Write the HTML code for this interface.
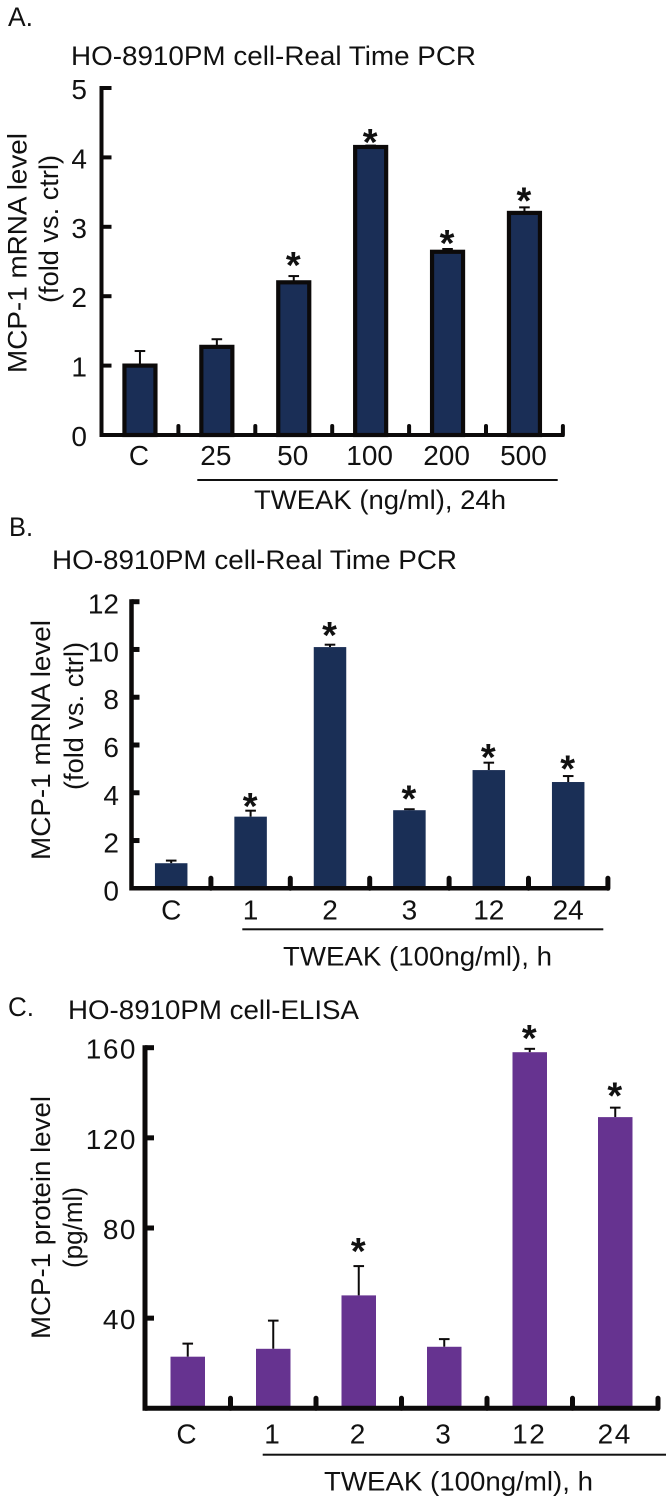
<!DOCTYPE html>
<html>
<head>
<meta charset="utf-8">
<title>MCP-1 levels</title>
<style>
html,body{margin:0;padding:0;background:#fff;width:672px;height:1503px;overflow:hidden}
svg{display:block;filter:blur(0.35px)}
text{font-family:"Liberation Sans",Arial,sans-serif;fill:#111}
.lab{font-size:27px}
.tick{font-size:28px}
</style>
</head>
<body>
<svg id="figure" xmlns="http://www.w3.org/2000/svg" width="672" height="1503" viewBox="0 0 672 1503">
<rect width="672" height="1503" fill="#fff"/>

<text x="8" y="26" class="lab" textLength="25" lengthAdjust="spacingAndGlyphs">A.</text>
<text x="71" y="65" class="lab" textLength="405" lengthAdjust="spacingAndGlyphs">HO-8910PM cell-Real Time PCR</text>
<text transform="translate(26.5,373) rotate(-90)" class="lab" textLength="240" lengthAdjust="spacingAndGlyphs">MCP-1 mRNA level</text>
<text transform="translate(58,303) rotate(-90)" class="lab" textLength="148" lengthAdjust="spacingAndGlyphs">(fold vs. ctrl)</text>
<rect x="197.3" y="479" width="360.4" height="2" fill="#111"/>
<text x="254" y="509" class="lab" textLength="252" lengthAdjust="spacingAndGlyphs">TWEAK (ng/ml), 24h</text>

<text x="9" y="536" class="lab" textLength="24" lengthAdjust="spacingAndGlyphs">B.</text>
<text x="52" y="569" class="lab" textLength="405" lengthAdjust="spacingAndGlyphs">HO-8910PM cell-Real Time PCR</text>
<text transform="translate(50,860) rotate(-90)" class="lab" textLength="240" lengthAdjust="spacingAndGlyphs">MCP-1 mRNA level</text>
<text transform="translate(83,790) rotate(-90)" class="lab" textLength="148" lengthAdjust="spacingAndGlyphs">(fold vs. ctrl)</text>
<rect x="242.3" y="928.3" width="361" height="2" fill="#111"/>
<text x="283" y="965.7" class="lab" textLength="269" lengthAdjust="spacingAndGlyphs">TWEAK (100ng/ml), h</text>

<text x="8" y="1016" class="lab" textLength="26" lengthAdjust="spacingAndGlyphs">C.</text>
<text x="68" y="1019" class="lab" textLength="291" lengthAdjust="spacingAndGlyphs">HO-8910PM cell-ELISA</text>
<text transform="translate(50,1339) rotate(-90)" class="lab" textLength="243" lengthAdjust="spacingAndGlyphs">MCP-1 protein level</text>
<text transform="translate(82,1268) rotate(-90)" class="lab" textLength="81" lengthAdjust="spacingAndGlyphs">(pg/ml)</text>
<rect x="262.7" y="1453.7" width="403.3" height="2" fill="#111"/>
<text x="324" y="1490.7" class="lab" textLength="269" lengthAdjust="spacingAndGlyphs">TWEAK (100ng/ml), h</text>
</svg>

<script>
// Panel A data
const categoriesA = ['C', '25', '50', '100', '200', '500'];
const valuesA = [1.0, 1.27, 2.2, 4.15, 2.64, 3.2];
const errorTopsA = [1.21, 1.38, 2.29, 4.17, 2.68, 3.28];
const starLevelsA = [null, null, 2.55, 4.32, 2.87, 3.48];
const yTicksA = [0, 1, 2, 3, 4, 5];

// Panel B data
const categoriesB = ['C', '1', '2', '3', '12', '24'];
const valuesB = [1.05, 3.0, 10.1, 3.27, 4.95, 4.45];
const errorTopsB = [1.16, 3.25, 10.2, 3.31, 5.26, 4.7];
const starLevelsB = [null, 3.73, 10.9, 4.05, 5.8, 5.3];
const yTicksB = [0, 2, 4, 6, 8, 10, 12];

// Panel C data
const categoriesC = ['C', '1', '2', '3', '12', '24'];
const valuesC = [22.9, 26.4, 50.1, 27.3, 158, 129.2];
const errorTopsC = [28.7, 38.9, 63.1, 30.7, 159.5, 133.4];
const starLevelsC = [null, null, 72.8, null, 167.5, 142];
const yTicksC = [40, 80, 120, 160];

const svg = document.getElementById('figure');
const NS = 'http://www.w3.org/2000/svg';

function mk(tag, attrs, text) {
  const el = document.createElementNS(NS, tag);
  for (const k in attrs) el.setAttribute(k, attrs[k]);
  if (text !== undefined) el.textContent = text;
  svg.appendChild(el);
  return el;
}

function drawPanel(p) {
  const yScale = v => p.yBase - (v - p.yMin) * (p.yBase - p.yTop) / (p.yMax - p.yMin);
  const xBand = i => p.xStart + (i + 0.5) * p.step;
  const xEdge = i => p.xStart + i * p.step;
  const n = p.categories.length;

  p.values.forEach((v, i) => {
    const cx = xBand(i);
    const top = yScale(v);
    const errTop = yScale(p.errorTops[i]);

    const stem = mk('line', {x1: cx, x2: cx, y1: top, y2: errTop, stroke: '#0c0a0a', 'stroke-width': p.errWidth});
    
    

    const cap = mk('line', {x1: cx - 5.3, x2: cx + 5.3, y1: errTop, y2: errTop, stroke: '#0c0a0a', 'stroke-width': p.errWidth});
    
    

    const bar = mk('rect', {
      x: cx - p.barWidth / 2,
      y: top,
      width: p.barWidth,
      height: yScale(p.yMin) - top,
      fill: p.color,
      stroke: p.barStroke,
      'stroke-width': p.barStrokeWidth
    });
    
    

    const label = mk('text', {
      x: cx + p.labelShift,
      y: p.xLabelY,
      'text-anchor': 'middle',
      class: 'tick',
      'letter-spacing': p.tickSpacing
    }, p.categories[i]);
    
    

    if (p.starLevels[i] !== null) {
      const star = mk('text', {
        x: cx - 0.5,
        y: yScale(p.starLevels[i]) + 20,
        'text-anchor': 'middle',
        style: 'font-size:38px;font-weight:bold'
      }, '*');
      
      
    }
  });

  const yAxis = mk('line', {x1: p.xStart, x2: p.xStart, y1: p.yTop - p.tickWidth / 2, y2: p.yBase + p.axisWidth / 2, stroke: '#0c0a0a', 'stroke-width': p.axisWidth});
  
  

  const xAxis = mk('line', {x1: p.xStart, x2: xEdge(n) + 1.5, y1: p.yBase, y2: p.yBase, stroke: '#0c0a0a', 'stroke-width': p.axisWidth});
  
  

  for (let i = 1; i <= n; i++) {
    const t = mk('line', {x1: xEdge(i), x2: xEdge(i), y1: p.yBase, y2: p.yBase - p.xTickLen, stroke: '#0c0a0a', 'stroke-width': p.tickWidth, 'stroke-linecap': 'round'});
    
    
  }

  p.yTicks.forEach(v => {
    const yy = yScale(v);
    if (v !== p.yMin) {
      const t = mk('line', {x1: p.xStart, x2: p.xStart + p.yTickLen, y1: yy, y2: yy, stroke: '#0c0a0a', 'stroke-width': p.tickWidth});
      
      
    }
    const label = mk('text', {
      x: p.yLabelX,
      y: yy + p.yLabelDrop,
      'text-anchor': 'end',
      class: 'tick',
      'letter-spacing': p.tickSpacing
    }, String(v));
    
    
  });
}

drawPanel({
  id: 'a', categories: categoriesA, values: valuesA, errorTops: errorTopsA, starLevels: starLevelsA, yTicks: yTicksA,
  yMin: 0, yMax: 5, yBase: 435, yTop: 88, xStart: 101.5, step: 76.9,
  barWidth: 31, barStroke: '#0c0a0a', barStrokeWidth: 4.2, color: '#1a2e56',
  axisWidth: 4, tickWidth: 4, xTickLen: 9, yTickLen: 10, errWidth: 2,
  xLabelY: 465, yLabelX: 87, yLabelDrop: 11, labelShift: -1, tickSpacing: 0
});
drawPanel({
  id: 'b', categories: categoriesB, values: valuesB, errorTops: errorTopsB, starLevels: starLevelsB, yTicks: yTicksB,
  yMin: 0, yMax: 12, yBase: 888.3, yTop: 601.7, xStart: 131.5, step: 79.4,
  barWidth: 32.5, barStroke: 'none', barStrokeWidth: 0, color: '#1a2f56',
  axisWidth: 4.5, tickWidth: 5, xTickLen: 10, yTickLen: 8, errWidth: 2,
  xLabelY: 919.3, yLabelX: 119, yLabelDrop: 12, labelShift: 0, tickSpacing: 0
});
drawPanel({
  id: 'c', categories: categoriesC, values: valuesC, errorTops: errorTopsC, starLevels: starLevelsC, yTicks: yTicksC,
  yMin: 0, yMax: 160, yBase: 1408.3, yTop: 1047.7, xStart: 145, step: 85.5,
  barWidth: 34.5, barStroke: 'none', barStrokeWidth: 0, color: '#663390',
  axisWidth: 5, tickWidth: 5, xTickLen: 10, yTickLen: 9, errWidth: 2,
  xLabelY: 1443.3, yLabelX: 137, yLabelDrop: 11, labelShift: -0.5, tickSpacing: 1.5
});
</script>
</body>
</html>
